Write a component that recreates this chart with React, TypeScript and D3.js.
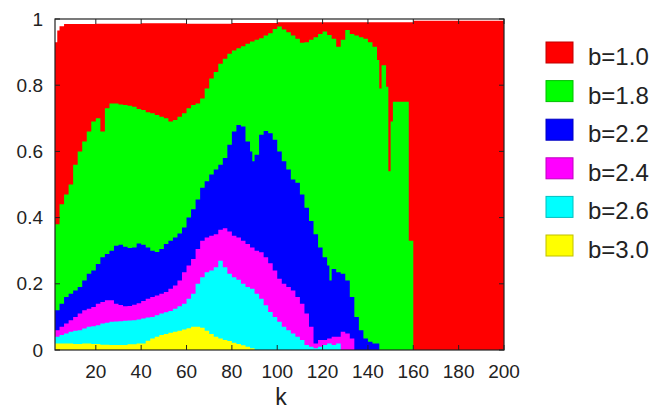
import React, { useRef, useEffect } from "react";
import * as d3 from "d3";

// k positions and fractions, one pair of arrays per b
const kRed = [2, 3, 4, 6, 20, 40, 60, 80, 100, 120, 140, 160, 200];
const vRed = [0.93, 0.965, 0.978, 0.985, 0.986, 0.987, 0.986, 0.988, 0.99, 0.99, 0.99, 0.995, 0.995];

const kGreen = [
  2, 4, 6, 8, 10, 12, 14, 16, 18, 20, 22, 24, 26, 28, 30, 32, 34, 36, 38, 40,
  42, 44, 46, 48, 50, 52, 54, 56, 58, 60, 62, 64, 66, 68, 70, 72, 74, 76, 78, 80,
  82, 84, 86, 88, 90, 92, 94, 96, 98, 100, 102, 104, 106, 108, 110, 112, 114, 116, 118, 120,
  122, 124, 126, 128, 130, 132, 134, 136, 138, 140, 142, 144, 145, 146, 148, 149, 150, 151, 158, 160,
];
const vGreen = [
  0.38, 0.44, 0.47, 0.5, 0.56, 0.6, 0.63, 0.66, 0.69, 0.7, 0.66, 0.73, 0.745, 0.745, 0.742, 0.74, 0.738, 0.735, 0.728, 0.725,
  0.718, 0.715, 0.71, 0.705, 0.7, 0.69, 0.695, 0.705, 0.715, 0.73, 0.74, 0.745, 0.76, 0.79, 0.82, 0.84, 0.865, 0.88, 0.895, 0.905,
  0.912, 0.918, 0.925, 0.932, 0.937, 0.942, 0.95, 0.957, 0.97, 0.977, 0.968, 0.96, 0.95, 0.94, 0.928, 0.93, 0.937, 0.945, 0.955, 0.962,
  0.952, 0.94, 0.916, 0.937, 0.967, 0.955, 0.95, 0.945, 0.94, 0.93, 0.916, 0.876, 0.79, 0.86, 0.795, 0.54, 0.69, 0.75, 0.33, 0,
];

const kBlue = [
  2, 4, 6, 8, 10, 12, 14, 16, 18, 20, 22, 24, 26, 28, 30, 32, 34, 36, 38, 40,
  42, 44, 46, 48, 50, 52, 54, 56, 58, 60, 62, 64, 66, 68, 70, 72, 74, 76, 78, 80,
  82, 84, 86, 88, 89, 90, 92, 94, 96, 98, 100, 102, 104, 106, 108, 110, 112, 114, 116, 118,
  120, 122, 123, 124, 126, 128, 130, 132, 134, 136, 138, 140, 142, 145,
];
const vBlue = [
  0.12, 0.14, 0.16, 0.17, 0.18, 0.19, 0.21, 0.23, 0.24, 0.26, 0.28, 0.29, 0.3, 0.315, 0.318, 0.312, 0.308, 0.31, 0.322, 0.318,
  0.31, 0.3, 0.296, 0.305, 0.32, 0.33, 0.34, 0.352, 0.37, 0.4, 0.425, 0.455, 0.49, 0.51, 0.53, 0.545, 0.56, 0.58, 0.62, 0.66,
  0.68, 0.675, 0.63, 0.6, 0.57, 0.59, 0.65, 0.662, 0.655, 0.635, 0.6, 0.57, 0.545, 0.515, 0.505, 0.47, 0.43, 0.39, 0.35, 0.31,
  0.28, 0.255, 0.21, 0.245, 0.235, 0.23, 0.21, 0.16, 0.1, 0.06, 0.035, 0.025, 0.02, 0,
];

const kMagenta = [
  2, 4, 6, 8, 10, 12, 14, 16, 18, 20, 22, 24, 26, 28, 30, 32, 34, 36, 38, 40,
  42, 44, 46, 48, 50, 52, 54, 56, 58, 60, 62, 64, 66, 68, 70, 72, 74, 76, 78, 80,
  82, 84, 86, 88, 90, 92, 94, 96, 98, 100, 102, 104, 106, 108, 110, 112, 114, 116, 118, 120,
  122, 124, 126, 128, 130, 132, 134,
];
const vMagenta = [
  0.06, 0.07, 0.08, 0.09, 0.1, 0.11, 0.12, 0.125, 0.13, 0.14, 0.145, 0.15, 0.15, 0.14, 0.136, 0.132, 0.133, 0.137, 0.141, 0.148,
  0.155, 0.16, 0.165, 0.17, 0.175, 0.185, 0.195, 0.21, 0.235, 0.255, 0.275, 0.305, 0.33, 0.34, 0.345, 0.35, 0.363, 0.368, 0.358, 0.345,
  0.34, 0.33, 0.32, 0.31, 0.3, 0.295, 0.28, 0.262, 0.24, 0.215, 0.2, 0.19, 0.18, 0.16, 0.14, 0.11, 0.07, 0.02, 0.03, 0.03,
  0.035, 0.04, 0.04, 0.055, 0.05, 0.035, 0,
];

const kCyan = [
  2, 4, 6, 8, 10, 12, 14, 16, 18, 20, 22, 24, 26, 28, 30, 32, 34, 36, 38, 40,
  42, 44, 46, 48, 50, 52, 54, 56, 58, 60, 62, 64, 66, 68, 70, 72, 74, 76, 78, 80,
  82, 84, 86, 88, 90, 92, 94, 96, 98, 100, 102, 104, 106, 108, 110, 112, 114, 116, 118, 120,
  122, 124, 126, 128,
];
const vCyan = [
  0.04, 0.045, 0.05, 0.055, 0.058, 0.06, 0.065, 0.07, 0.072, 0.075, 0.08, 0.082, 0.085, 0.086, 0.087, 0.088, 0.089, 0.09, 0.092, 0.095,
  0.098, 0.1, 0.105, 0.11, 0.114, 0.118, 0.125, 0.132, 0.14, 0.155, 0.17, 0.2, 0.22, 0.235, 0.24, 0.25, 0.27, 0.25, 0.23, 0.22,
  0.212, 0.2, 0.19, 0.185, 0.17, 0.155, 0.135, 0.115, 0.1, 0.085, 0.07, 0.06, 0.05, 0.04, 0.03, 0.015, 0.01, 0.005, 0.01, 0.015,
  0.02, 0.015, 0.02, 0,
];

const kYellow = [
  2, 6, 10, 14, 18, 22, 26, 30, 34, 38, 42, 44, 46, 48, 50, 52, 54, 56, 58, 60,
  62, 64, 66, 68, 70, 72, 74, 76, 78, 80, 82, 84, 86, 88, 90,
];
const vYellow = [
  0.02, 0.02, 0.018, 0.02, 0.018, 0.016, 0.015, 0.015, 0.017, 0.02, 0.028, 0.035, 0.04, 0.045, 0.048, 0.052, 0.055, 0.058, 0.062, 0.066,
  0.07, 0.07, 0.067, 0.058, 0.048, 0.04, 0.035, 0.03, 0.027, 0.022, 0.018, 0.014, 0.01, 0.005, 0,
];

const seriesNames = ["b=1.0", "b=1.8", "b=2.2", "b=2.4", "b=2.6", "b=3.0"];
const seriesColors = ["#ff0000", "#00ff00", "#0000ff", "#ff00ff", "#00ffff", "#ffff00"];
const seriesK = [kRed, kGreen, kBlue, kMagenta, kCyan, kYellow];
const seriesV = [vRed, vGreen, vBlue, vMagenta, vCyan, vYellow];

const xTicks = [20, 40, 60, 80, 100, 120, 140, 160, 180, 200];
const yTicks = [0, 0.2, 0.4, 0.6, 0.8, 1];

const App = () => {
  const ref = useRef(null);

  useEffect(() => {
    if (!ref.current) return;
    const svg = d3.select(ref.current);
    svg.selectAll("*").remove();

    const left = 55;
    const right = 504;
    const top = 19;
    const bottom = 350;
    const font = "'Liberation Sans', Arial, Helvetica, sans-serif";
    const textColor = "#222";

    const x = d3.scaleLinear().domain([2, 200]).range([left, right]);
    const y = d3.scaleLinear().domain([0, 1]).range([bottom, top]);

    const area = d3
      .area()
      .x((d) => x(d[0]))
      .y0(y(0))
      .y1((d) => y(d[1]))
      .curve(d3.curveStepAfter);

    // filled curves, drawn from b=1.0 up to b=3.0
    seriesNames.forEach((name, i) => {
      const pts = seriesK[i].map((k, j) => [k, seriesV[i][j]]);
      svg
        .append("path")
        .attr("d", area(pts))
        .attr("fill", seriesColors[i]);
    });

    // frame
    svg
      .append("rect")
      .attr("x", left)
      .attr("y", top)
      .attr("width", right - left)
      .attr("height", bottom - top)
      .attr("fill", "none")
      .attr("stroke", "#222")
      .attr("stroke-width", 1.2);

    const tickLen = 5;
    const ticks = svg.append("g").attr("stroke", "#222").attr("stroke-width", 1);
    xTicks.forEach((t) => {
      ticks.append("line").attr("x1", x(t)).attr("x2", x(t)).attr("y1", bottom).attr("y2", bottom - tickLen);
      ticks.append("line").attr("x1", x(t)).attr("x2", x(t)).attr("y1", top).attr("y2", top + tickLen);
    });
    yTicks.forEach((t) => {
      ticks.append("line").attr("x1", left).attr("x2", left + tickLen).attr("y1", y(t)).attr("y2", y(t));
      ticks.append("line").attr("x1", right).attr("x2", right - tickLen).attr("y1", y(t)).attr("y2", y(t));
    });

    svg
      .append("g")
      .selectAll("text")
      .data(xTicks)
      .join("text")
      .attr("x", (d) => x(d))
      .attr("y", 378)
      .attr("text-anchor", "middle")
      .attr("font-family", font)
      .attr("font-size", 19)
      .attr("fill", textColor)
      .text((d) => d);

    svg
      .append("g")
      .selectAll("text")
      .data(yTicks)
      .join("text")
      .attr("x", 43)
      .attr("y", (d) => y(d))
      .attr("dy", "0.35em")
      .attr("text-anchor", "end")
      .attr("font-family", font)
      .attr("font-size", 19)
      .attr("fill", textColor)
      .text((d) => d);

    svg
      .append("text")
      .attr("x", 281)
      .attr("y", 405)
      .attr("text-anchor", "middle")
      .attr("font-family", font)
      .attr("font-size", 23)
      .attr("fill", textColor)
      .text("k");

    // legend
    const legend = svg.append("g");
    seriesNames.forEach((name, i) => {
      const ty = 42 + i * 38.6;
      legend
        .append("rect")
        .attr("x", 546)
        .attr("y", ty)
        .attr("width", 27)
        .attr("height", 21)
        .attr("fill", seriesColors[i])
        .attr("stroke", d3.color(seriesColors[i]).darker(0.8).formatHex())
        .attr("stroke-width", 1);
      legend
        .append("text")
        .attr("x", 588)
        .attr("y", ty + 23)
        .attr("font-family", font)
        .attr("font-size", 24)
        .attr("fill", textColor)
        .text(name);
    });
  }, []);

  return (
    <svg
      ref={ref}
      width={663}
      height={412}
      style={{ position: "absolute", left: 0, top: 0, background: "#fff" }}
    />
  );
};

export default App;
